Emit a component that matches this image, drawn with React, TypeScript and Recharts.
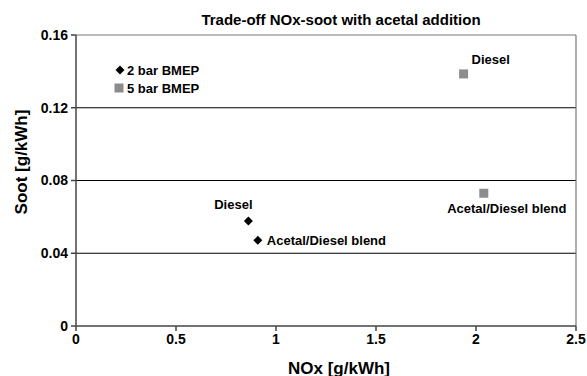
import React from 'react';
import {
  ScatterChart,
  Scatter,
  XAxis,
  YAxis,
  ReferenceLine,
  LabelList,
} from 'recharts';

// NOx / soot trade-off at two engine loads
const fuels = ['Diesel', 'Acetal/Diesel blend'];
const nox2bar = [0.862, 0.909];
const soot2bar = [0.0577, 0.0471];
const nox5bar = [1.938, 2.039];
const soot5bar = [0.1386, 0.073];

const xTicks = [0, 0.5, 1, 1.5, 2, 2.5];
const yTicks = [0, 0.04, 0.08, 0.12, 0.16];
const gridValues = [0.04, 0.08, 0.12];

const seriesNames = ['2 bar BMEP', '5 bar BMEP'];

const data2bar = fuels.map((name, i) => ({ name, nox: nox2bar[i], soot: soot2bar[i] }));
const data5bar = fuels.map((name, i) => ({ name, nox: nox5bar[i], soot: soot5bar[i] }));

const FONT = 'Liberation Sans, Arial, sans-serif';
const GREY = '#8c8c8c';
const LABEL_SIZE = 13;

const Diamond = (props: any) => {
  const { cx, cy } = props;
  const r = 4.5;
  return (
    <path
      d={`M${cx},${cy - r} L${cx + r},${cy} L${cx},${cy + r} L${cx - r},${cy} Z`}
      fill="#000"
    />
  );
};

const Square = (props: any) => {
  const { cx, cy } = props;
  const s = 9;
  return <rect x={cx - s / 2} y={cy - s / 2} width={s} height={s} fill={GREY} />;
};

const labelStyle = { fontFamily: FONT, fontSize: LABEL_SIZE, fontWeight: 700, fill: '#000' };

// Label placement per point: Diesel above-left, blend to the right (2 bar)
const label2bar = (props: any) => {
  const { x, y, value, index } = props;
  if (index === 0) {
    return (
      <text x={x - 15} y={y - 17} textAnchor="middle" dominantBaseline="central" {...labelStyle}>
        {value}
      </text>
    );
  }
  return (
    <text x={x + 9} y={y} textAnchor="start" dominantBaseline="central" {...labelStyle}>
      {value}
    </text>
  );
};

// 5 bar: Diesel above-right, blend centred below
const label5bar = (props: any) => {
  const { x, y, value, index } = props;
  if (index === 0) {
    return (
      <text x={x + 8} y={y - 14} textAnchor="start" dominantBaseline="central" {...labelStyle}>
        {value}
      </text>
    );
  }
  return (
    <text x={x + 23} y={y + 15} textAnchor="middle" dominantBaseline="central" {...labelStyle}>
      {value}
    </text>
  );
};

// Scatter passes x/y as the top-left of the symbol box; shift to centre
const shift = (fn: any) => (props: any) =>
  fn({ ...props, x: props.x + props.width / 2, y: props.y + props.height / 2 });

const LegendBox = () => (
  <g fontFamily={FONT} fontSize={LABEL_SIZE} fontWeight={700}>
    <Diamond cx={120} cy={70} />
    <text x={127} y={70} dominantBaseline="central">{seriesNames[0]}</text>
    <Square cx={119} cy={88} />
    <text x={127} y={88} dominantBaseline="central">{seriesNames[1]}</text>
  </g>
);

const tickStyle = { fontFamily: FONT, fontSize: 14, fontWeight: 700, fill: '#000' };
const axisTitle = { fontFamily: FONT, fontSize: 17, fontWeight: 700, fill: '#000' };

export default function App() {
  return (
    <div style={{ position: 'absolute', left: 0, top: 0, width: 587, height: 376, background: '#fff' }}>
      <ScatterChart
        width={587}
        height={376}
        margin={{ top: 35, right: 11, bottom: 0, left: 0 }}
      >
        <text
          x={341}
          y={19}
          textAnchor="middle"
          dominantBaseline="central"
          fontFamily={FONT}
          fontSize={15}
          fontWeight={700}
        >
          Trade-off NOx-soot with acetal addition
        </text>
        <text x={339} y={368} textAnchor="middle" dominantBaseline="central" {...axisTitle}>
          NOx [g/kWh]
        </text>
        <text
          x={21}
          y={162}
          textAnchor="middle"
          dominantBaseline="central"
          transform="rotate(-90 21 162)"
          {...axisTitle}
        >
          Soot [g/kWh]
        </text>
        <XAxis
          type="number"
          dataKey="nox"
          domain={[0, 2.5]}
          ticks={xTicks}
          tick={tickStyle}
          tickSize={5}
          tickMargin={3}
          height={50}
          stroke="#444"
          strokeWidth={1.5}
          allowDataOverflow
        />
        <YAxis
          type="number"
          dataKey="soot"
          domain={[0, 0.16]}
          ticks={yTicks}
          tick={tickStyle}
          tickSize={5}
          tickMargin={3}
          width={76}
          stroke="#444"
          strokeWidth={1.5}
          allowDataOverflow
        />
        {gridValues.map((v) => (
          <ReferenceLine key={v} y={v} stroke="#000" strokeWidth={1.2} />
        ))}
        <ReferenceLine y={0.16} stroke="#777" strokeWidth={1.2} />
        <ReferenceLine x={2.5} stroke="#777" strokeWidth={1.2} />
        <Scatter name={seriesNames[0]} data={data2bar} shape={Diamond} isAnimationActive={false}>
          <LabelList dataKey="name" content={shift(label2bar)} />
        </Scatter>
        <Scatter name={seriesNames[1]} data={data5bar} shape={Square} isAnimationActive={false}>
          <LabelList dataKey="name" content={shift(label5bar)} />
        </Scatter>
        <LegendBox />
      </ScatterChart>
    </div>
  );
}
